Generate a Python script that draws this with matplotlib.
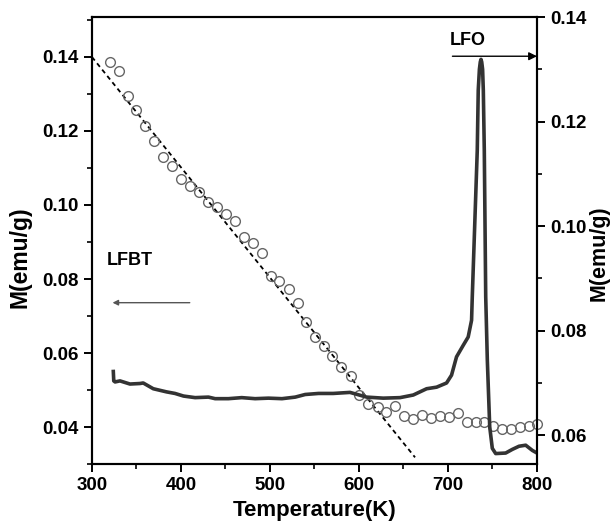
import numpy as np
import matplotlib
matplotlib.use("Agg")
import matplotlib.pyplot as plt
from matplotlib.ticker import MultipleLocator, FormatStrFormatter

# LFBT: open circles (left axis)
lfbt_T = [320, 330, 341, 350, 360, 370, 380, 390, 400, 410, 420, 430, 440, 451,
          461, 471, 481, 491, 501, 510, 521, 531, 540, 551, 561, 570, 580, 591,
          600, 610, 621, 630, 641, 651, 661, 671, 681, 691, 701, 711, 721, 731,
          741, 751, 761, 771, 781, 791, 800]
lfbt_M = [0.1386, 0.1363, 0.1295, 0.1257, 0.1214, 0.1173, 0.1129, 0.1106, 0.1070,
          0.1052, 0.1034, 0.1009, 0.0994, 0.0976, 0.0958, 0.0913, 0.0898, 0.0869,
          0.0809, 0.0795, 0.0772, 0.0734, 0.0683, 0.0644, 0.0620, 0.0592, 0.0563,
          0.0538, 0.0486, 0.0462, 0.0453, 0.0441, 0.0457, 0.0431, 0.0422, 0.0432,
          0.0425, 0.0430, 0.0428, 0.0437, 0.0413, 0.0413, 0.0413, 0.0404, 0.0395,
          0.0396, 0.0401, 0.0404, 0.0408]

# linear fit through LFBT (dashed)
fit_T = [300, 663]
fit_M = [0.1400, 0.0318]

# LFO: solid curve (right axis)
lfo_T = [324, 324.5, 326, 331.5, 342.7, 353.9, 357.6, 368.9, 383.8, 393.3, 402.9,
         415.9, 430.9, 438.4, 453.3, 468.3, 483.3, 498.3, 513.5, 528.4, 539.6,
         554.6, 571.1, 589.9, 608.6, 627.3, 646.1, 661.0, 676.0, 687.2, 698.4,
         704.0, 709.6, 717.1, 722.7, 726.5, 727.3, 732.9, 734.0, 735.3, 736.3,
         737.1, 737.9, 738.9, 739.7, 740.8, 742.4, 744.2, 746.9, 749.8, 753.6,
         764.8, 772.3, 779.8, 787.3, 794.8, 800]
lfo_M = [0.0722, 0.0704, 0.0702, 0.0704, 0.0698, 0.0699, 0.0700, 0.0689, 0.0683,
         0.0680, 0.0675, 0.0672, 0.0673, 0.0670, 0.0670, 0.0672, 0.0670, 0.0671,
         0.0670, 0.0673, 0.0678, 0.0680, 0.0680, 0.0682, 0.0673, 0.0671, 0.0672,
         0.0677, 0.0689, 0.0692, 0.0700, 0.0715, 0.0750, 0.0772, 0.0788, 0.0820,
         0.0865, 0.1145, 0.1260, 0.1300, 0.1314, 0.1319, 0.1314, 0.1300, 0.1260,
         0.1145, 0.0865, 0.0744, 0.0616, 0.0575, 0.0565, 0.0566, 0.0573, 0.0579,
         0.0581, 0.0571, 0.0566]

plt.rcParams["font.family"] = ["Liberation Sans", "DejaVu Sans"]
plt.rcParams["font.weight"] = "bold"

fig = plt.figure(figsize=(6.13, 5.27), dpi=100)
ax = fig.add_axes([0.150, 0.1195, 0.726, 0.8482])
ax2 = ax.twinx()

ax.plot(lfbt_T, lfbt_M, "o", mfc="none", mec="#666666", ms=7, mew=1.0,
        clip_on=False, zorder=3)
ax.plot(fit_T, fit_M, color="black", lw=1.3, ls=(0, (2.5, 2.0)))
ax2.plot(lfo_T, lfo_M, color="#333333", lw=2.6, solid_joinstyle="round")

ax.set_xlim(300, 800)
ax.set_ylim(0.03, 0.1508)
ax2.set_ylim(0.0545, 0.14)

ax.xaxis.set_major_locator(MultipleLocator(100))
ax.xaxis.set_minor_locator(MultipleLocator(50))
for a in (ax, ax2):
    a.yaxis.set_major_locator(MultipleLocator(0.02))
    a.yaxis.set_minor_locator(MultipleLocator(0.01))
    a.yaxis.set_major_formatter(FormatStrFormatter("%.2f"))
    a.tick_params(which="major", length=6, width=1.4, labelsize=13.5, direction="out")
    a.tick_params(which="minor", length=3.5, width=1.2, direction="out")
    for s in a.spines.values():
        s.set_linewidth(1.5)
ax.tick_params(top=False, which="both")

ax.set_xlabel("Temperature(K)", fontsize=16, fontweight="bold", labelpad=4)
ax.set_ylabel("M(emu/g)", fontsize=16.5, fontweight="bold")
ax2.set_ylabel("M(emu/g)", fontsize=15.5, fontweight="bold", rotation=90)
ax.yaxis.set_label_coords(-0.135, 0.463)
ax2.yaxis.set_label_coords(1.117, 0.472)

# annotations
ax.text(342.7, 0.0851, "LFBT", fontsize=13, fontweight="bold", ha="center", va="center")
ax.annotate("", xy=(320, 0.0736), xytext=(413, 0.0736),
            arrowprops=dict(arrowstyle="-|>", color="#555555", lw=1.0,
                            mutation_scale=8))
ax2.text(722, 0.1355, "LFO", fontsize=13, fontweight="bold", ha="center", va="center")
ax2.annotate("", xy=(800, 0.1325), xytext=(705, 0.1325),
             arrowprops=dict(arrowstyle="-|>", color="black", lw=1.0,
                             mutation_scale=12, shrinkA=0, shrinkB=0))

fig.savefig("out.png", dpi=100)
